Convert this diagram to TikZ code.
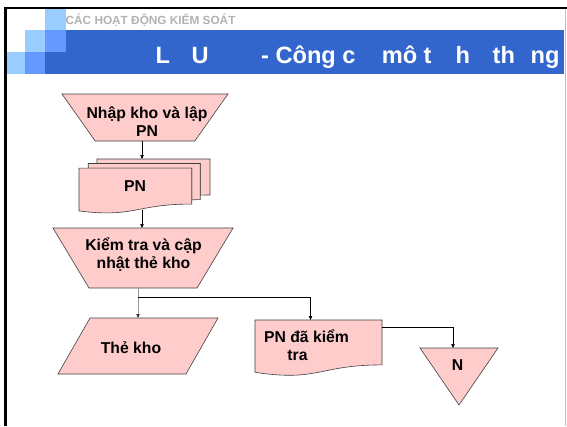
\documentclass[tikz,border=0pt]{standalone}
\usepackage{fontspec}
\setmainfont{Liberation Sans}[BoldFont={Liberation Sans Bold}]
\usetikzlibrary{calc, arrows.meta}
\definecolor{bannerblue}{HTML}{3366CC}
\definecolor{midblue}{HTML}{6699FF}
\definecolor{lightblue}{HTML}{99CCFF}
\definecolor{boxpink}{HTML}{FFCCCC}
\begin{document}
\begin{tikzpicture}[x=1pt, y=-1pt,
    box/.style={draw=black!75, line width=0.6pt, fill=boxpink},
    txt/.style={font=\fontsize{15.75}{18}\selectfont\bfseries, align=center, inner sep=0pt, anchor=base},
    ttl/.style={font=\fontsize{23.6}{28}\selectfont\bfseries, text=white, inner sep=0pt, anchor=base west},
    conn/.style={line width=0.6pt, -{Triangle[length=4pt, width=3.4pt]}}]
                \useasboundingbox (0,0) rectangle (567,426);
                \fill[white] (0,0) rectangle (567,426);
                \foreach \xa/\xb/\ya/\yb/\c in {45/66/9/30/lightblue, 25/45/30/52/lightblue, 45/66/30/52/midblue,
                    6/25/52/74/lightblue, 25/45/52/74/midblue, 45/66/52/74/bannerblue}{
                    \fill[\c] (\xa,\ya) rectangle (\xb,\yb);
                }
                \fill[bannerblue] (66,30) rectangle (564,74);
                \draw[line width=2.5pt] (5.3,426) -- (5.3,8) -- (567,8);
                \draw[black!25, line width=0.8pt] (565.3,9.3) -- (565.3,426);
                \node[anchor=base west, inner sep=0pt, text=black!30, font=\fontsize{11.8}{14}\selectfont\bfseries] (subtitle) at (65.5,24) {CÁC HOẠT ĐỘNG KIỂM SOÁT};
                \foreach \x/\t [count=\i] in {155.3/L, 191.3/U, 261/{- Công c}, 381.6/{mô t}, 455.4/h, 492.5/th, 530.4/ng}{
                    \node[ttl] (title\i) at (\x,63) {\t};
                }
                \draw[box] (62,94) -- (228,94) -- (194.8,141) -- (95.2,141) -- cycle;
                \begin{scope}[shift={(79,159)}, x=1.31pt, y=-0.54pt]
                    \draw[box] (13.76,8.40) -- (13.76,0) -- (100,0) -- (100,66.63) .. controls (96.30,66.63) and (92.59,66.98) .. (92.59,66.98) -- (92.59,8.40) -- cycle;
                    \draw[box] (7.09,17.01) -- (7.09,8.40) -- (92.59,8.40) -- (92.59,75.24) .. controls (89.34,75.24) and (86.09,75.70) .. (86.09,75.70) -- (86.09,17.01) -- cycle;
                    \draw[box] (0,96.21) .. controls (43.05,108.99) and (43.05,83.44) .. (86.09,83.44) -- (86.09,17.01) -- (0,17.01) -- cycle;
                \end{scope}
                \draw[box] (53,228) -- (233,228) -- (197,288) -- (89,288) -- cycle;
                \draw[box] (90,318) -- (218,318) -- (186,374) -- (58,374) -- cycle;
                \begin{scope}[shift={(255,320)}, x=1.27pt, y=-0.56pt]
                    \draw[box] (0,0) -- (100,0) -- (100,80.19) .. controls (50,80.19) and (50,110.75) .. (0,93.39) -- cycle;
                \end{scope}
                \draw[box] (420,348) -- (498,348) -- (459,405) -- cycle;
                \node[txt] (nhap) at (147,136) {Nhập kho và lập\\PN};
                \node[txt] (pn) at (135,191) {PN};
                \node[txt] (kiem) at (143.5,268) {Kiểm tra và cập\\nhật thẻ kho};
                \node[txt] (thekho) at (131,353) {Thẻ kho};
                \node[txt] (pndk) at (306.5,360) {PN đã kiểm\\tra\hspace*{18pt}};
                \node[txt] (n) at (457.5,370) {N};
                \coordinate (nhap-s) at (142,141);
                \coordinate (pn-n) at (142,159);
                \coordinate (pn-s) at (142,210);
                \coordinate (kiem-n) at (142,228);
                \coordinate (kiem-s) at (138,288);
                \coordinate (split) at (138,297.5);
                \coordinate (thekho-n) at (138,318);
                \coordinate (pndk-n) at (310.5,320);
                \coordinate (pndk-e) at (382,327);
                \coordinate (n-n) at (453,348);
                \draw[conn] (nhap-s) -- (pn-n);
                \draw[conn] (pn-s) -- (kiem-n);
                \draw[conn, black!40, -{Triangle[length=4pt, width=3.4pt, color=black!80]}] (kiem-s) -- (thekho-n);
                \draw[conn] (split) -| (pndk-n);
                \draw[conn] (pndk-e) -| (n-n);
            \end{tikzpicture}
\end{document}
